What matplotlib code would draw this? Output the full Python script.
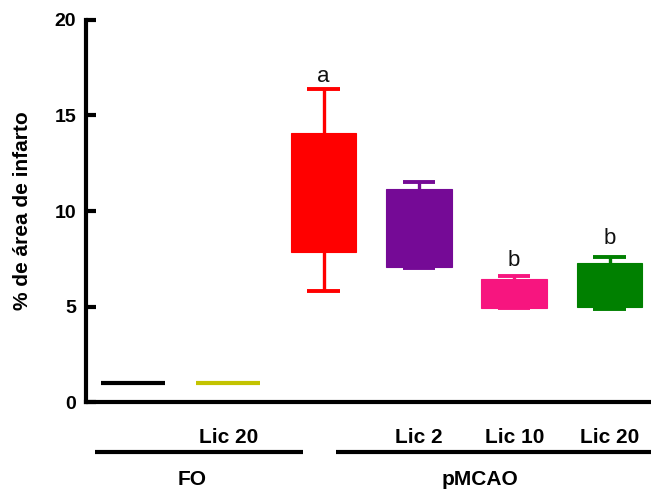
import matplotlib
matplotlib.use('Agg')
import matplotlib.pyplot as plt

plt.rcParams['font.family'] = ['Liberation Sans', 'DejaVu Sans']

# ---- data ----
groups = ['FO', 'FO Lic 20', 'pMCAO', 'pMCAO Lic 2', 'pMCAO Lic 10', 'pMCAO Lic 20']
whis_lo = [1.0, 1.0, 5.83, 7.00, 4.92, 4.88]
q1 = [1.0, 1.0, 7.84, 7.08, 4.92, 4.99]
q3 = [1.0, 1.0, 14.10, 11.14, 6.44, 7.26]
whis_hi = [1.0, 1.0, 16.40, 11.53, 6.61, 7.61]
colors = ['#000000', '#C3C300', '#FF0000', '#750A96', '#F7157F', '#008000']
sig_letters = ['', '', 'a', '', 'b', 'b']
sig_y = [0, 0, 16.75, 0, 7.12, 8.26]
sub_labels = ['', 'Lic 20', '', 'Lic 2', 'Lic 10', 'Lic 20']
yticks = [0, 5, 10, 15, 20]
ylabel = '% de área de infarto'
treat_names = ['FO', 'pMCAO']
treat_span = [(0.60, 2.78), (3.13, 6.44)]
treat_text_x = [1.62, 4.64]

positions = list(range(1, len(groups) + 1))

fig = plt.figure(figsize=(6.51, 4.94), dpi=100)
ax = fig.add_axes([86 / 651, 92 / 494, 565 / 651, 382 / 494])

stats = []
for i, g in enumerate(groups):
    stats.append(dict(label=g, med=q1[i], q1=q1[i], q3=q3[i],
                      whislo=whis_lo[i], whishi=whis_hi[i], fliers=[]))

flat = [q1[i] == q3[i] for i in range(len(groups))]
widths = [0.67 if f else 0.69 for f in flat]
res = ax.bxp(stats, positions=positions, widths=widths, patch_artist=True,
             showfliers=False, capwidths=0.34, manage_ticks=False)

for i, c in enumerate(colors):
    box = res['boxes'][i]
    box.set_facecolor(c)
    box.set_edgecolor(c)
    box.set_linewidth(3.0 if flat[i] else 0.8)
    box.set_joinstyle('round' if flat[i] else 'miter')
    res['medians'][i].set_visible(False)
    for ln in res['whiskers'][2 * i:2 * i + 2]:
        ln.set_color(c)
        ln.set_linewidth(2.4)
        ln.set_solid_capstyle('butt')
        if flat[i]:
            ln.set_visible(False)
    for ln in res['caps'][2 * i:2 * i + 2]:
        ln.set_color(c)
        ln.set_linewidth(2.8)
        ln.set_solid_capstyle('butt')
        if flat[i]:
            ln.set_visible(False)

for i, s in enumerate(sig_letters):
    if s:
        ax.text(positions[i], sig_y[i], s, ha='center', va='baseline',
                fontsize=16, color='#111111')

ax.set_xlim(0.507, 6.435)
ax.set_ylim(0, 20)
ax.set_yticks(yticks)
ax.set_yticklabels([str(t) for t in yticks], fontsize=14, fontweight='bold')
ax.set_xticks([])
ax.tick_params(axis='y', direction='in', length=7, width=3, pad=7)

for side in ['top', 'right']:
    ax.spines[side].set_visible(False)
for side in ['left', 'bottom']:
    ax.spines[side].set_linewidth(3)
ax.spines['left'].set_capstyle('projecting')

ax.set_ylabel(ylabel, fontsize=15, fontweight='bold')
ax.yaxis.set_label_coords(-0.0956, 0.5)

trans = ax.get_xaxis_transform()
for i, s in enumerate(sub_labels):
    if s:
        ax.text(positions[i], -0.1073, s, transform=trans, ha='center',
                va='baseline', fontsize=15, fontweight='bold', clip_on=False)

for name, (x0, x1), tx in zip(treat_names, treat_span, treat_text_x):
    ax.plot([x0, x1], [-0.131, -0.131], transform=trans, color='black',
            lw=3, clip_on=False, solid_capstyle='butt')
    ax.text(tx, -0.2173, name, transform=trans, ha='center', va='baseline',
            fontsize=15, fontweight='bold', clip_on=False)

fig.savefig('out.png', dpi=100)
